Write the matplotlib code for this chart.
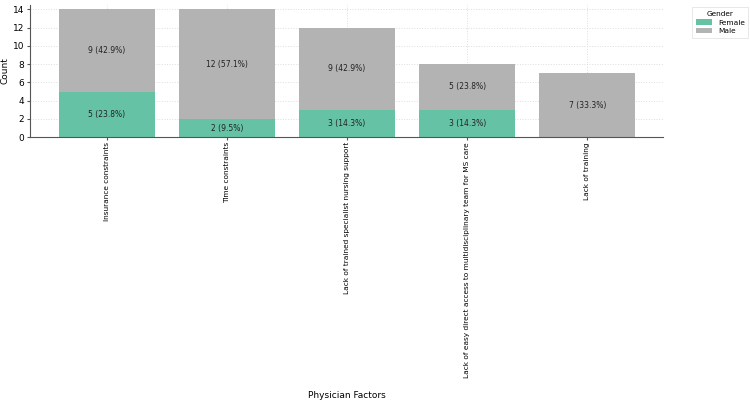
import matplotlib.pyplot as plt
import numpy as np

factors = ['Insurance constraints', 'Time constraints',
           'Lack of trained specialist nursing support',
           'Lack of easy direct access to multidisciplinary team for MS care',
           'Lack of training']
female = [5, 2, 3, 3, 0]
male = [9, 12, 9, 5, 7]
total_resp = 21

green = '#66c2a5'
grey = '#b3b3b3'

fig = plt.figure(figsize=(7.5, 4.07), dpi=100)
ax = fig.add_axes([0.04, 0.663, 0.844, 0.325])

x = np.arange(len(factors))
ax.bar(x, female, 0.8, color=green, label='Female', zorder=2)
ax.bar(x, male, 0.8, bottom=female, color=grey, label='Male', zorder=2)

for i in range(len(factors)):
    if female[i] > 0:
        ax.text(x[i], female[i] / 2.0, '%d (%.1f%%)' % (female[i], 100.0 * female[i] / total_resp),
                ha='center', va='center', fontsize=5.5, color='#222222', zorder=3)
    if male[i] > 0:
        ax.text(x[i], female[i] + male[i] / 2.0, '%d (%.1f%%)' % (male[i], 100.0 * male[i] / total_resp),
                ha='center', va='center', fontsize=5.5, color='#222222', zorder=3)

ax.set_xlim(-0.64, 4.63)
ax.set_ylim(0, 14.5)
ax.set_yticks([0, 2, 4, 6, 8, 10, 12, 14])
ax.set_xticks(x)
ax.set_xticklabels(factors, rotation=90, fontsize=5.3)
ax.tick_params(axis='y', labelsize=6.5, length=2, pad=2, color='#555555')
ax.tick_params(axis='x', length=2, pad=1.5, color='#555555')
ax.grid(True, linestyle=':', color='#dddddd', linewidth=0.7, zorder=0)
ax.set_axisbelow(True)
for s in ['top', 'right']:
    ax.spines[s].set_visible(False)
for s in ['left', 'bottom']:
    ax.spines[s].set_color('#555555')
ax.set_ylabel('Count', fontsize=6.5)
ax.yaxis.set_label_coords(-0.032, 0.5)
ax.set_xlabel('Physician Factors', fontsize=6.5)
ax.xaxis.set_label_coords(0.5, -1.92)

leg = ax.legend(title='Gender', loc='upper left', bbox_to_anchor=(1.04, 1.01),
                fontsize=5.3, title_fontsize=5.3, frameon=True, fancybox=False,
                handlelength=2.2, handleheight=0.7, borderpad=0.5, labelspacing=0.35)
leg.get_frame().set_edgecolor('#dddddd')
leg.get_frame().set_linewidth(0.6)

plt.savefig('out.png', dpi=100)
